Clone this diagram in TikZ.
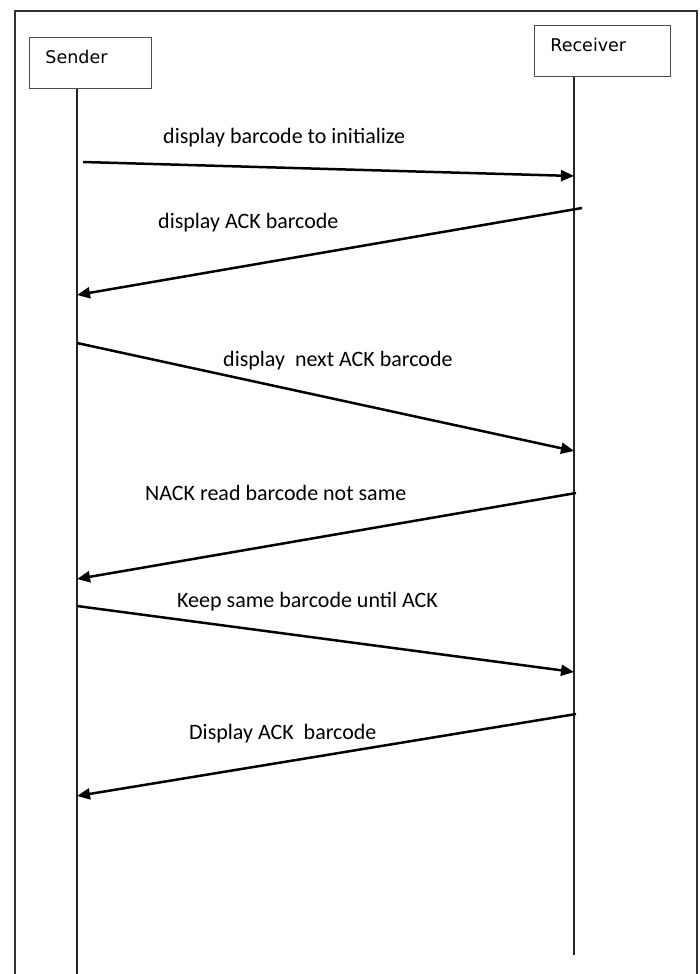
\documentclass[tikz,border=0pt]{standalone}
\usepackage{fontspec}
\setmainfont{Carlito}
\newfontfamily\boxfont{DejaVu Sans}
\usetikzlibrary{arrows.meta, positioning, calc}

\begin{document}
\begin{tikzpicture}[x=1pt, y=-1pt,
    actor/.style={draw=black!70, line width=0.9pt, anchor=north west, align=left,
        inner xsep=16pt, inner ysep=0pt, text height=26.5pt, text depth=24.5pt,
        font=\boxfont\fontsize{17.5}{20}\selectfont},
    life/.style={draw=black!85, line width=1.5pt},
    msg/.style={draw=black, line width=2.5pt, -{Triangle[length=13pt, width=11pt]}},
    msglabel/.style={anchor=base west, inner sep=0pt, font=\fontsize{22}{26}\selectfont}]
    \useasboundingbox (0,0) rectangle (700,974);
    % outer frame
    \draw[line width=2.5pt, black!80] (15,11) rectangle (697,990);

    % actors
    \node[actor, text width=90pt] (sender) at (29,37) {Sender};
    \node[actor, text width=104pt] (receiver) at (534,25) {Receiver};

    % lifelines
    \coordinate (sEnd) at (77,990);
    \coordinate (rEnd) at (574,955);
    \draw[life] (sender.south -| sEnd) -- (sEnd);
    \draw[life] (receiver.south -| rEnd) -- (rEnd);

    % messages
    \coordinate (m1a) at (83,162);  \coordinate (m1b) at (574,176);
    \coordinate (m2a) at (582,208); \coordinate (m2b) at (77,295);
    \coordinate (m3a) at (77,343);  \coordinate (m3b) at (574,451);
    \coordinate (m4a) at (576,493); \coordinate (m4b) at (77,579);
    \coordinate (m5a) at (77,606);  \coordinate (m5b) at (574,672);
    \coordinate (m6a) at (576,714); \coordinate (m6b) at (77,796);
    \draw[msg] (m1a) -- (m1b);
    \draw[msg] (m2a) -- (m2b);
    \draw[msg] (m3a) -- (m3b);
    \draw[msg] (m4a) -- (m4b);
    \draw[msg] (m5a) -- (m5b);
    \draw[msg] (m6a) -- (m6b);

    % labels
    \node[msglabel] (l1) at (163,143) {display barcode to initialize};
    \node[msglabel] (l2) at (158,228) {display ACK barcode};
    \node[msglabel] (l3) at (223,366) {display\ \ next ACK barcode};
    \node[msglabel] (l4) at (145,500) {NACK read barcode not same};
    \node[msglabel] (l5) at (177,607) {Keep same barcode until ACK};
    \node[msglabel] (l6) at (189,739) {Display ACK\ \ barcode};
\end{tikzpicture}
\end{document}
